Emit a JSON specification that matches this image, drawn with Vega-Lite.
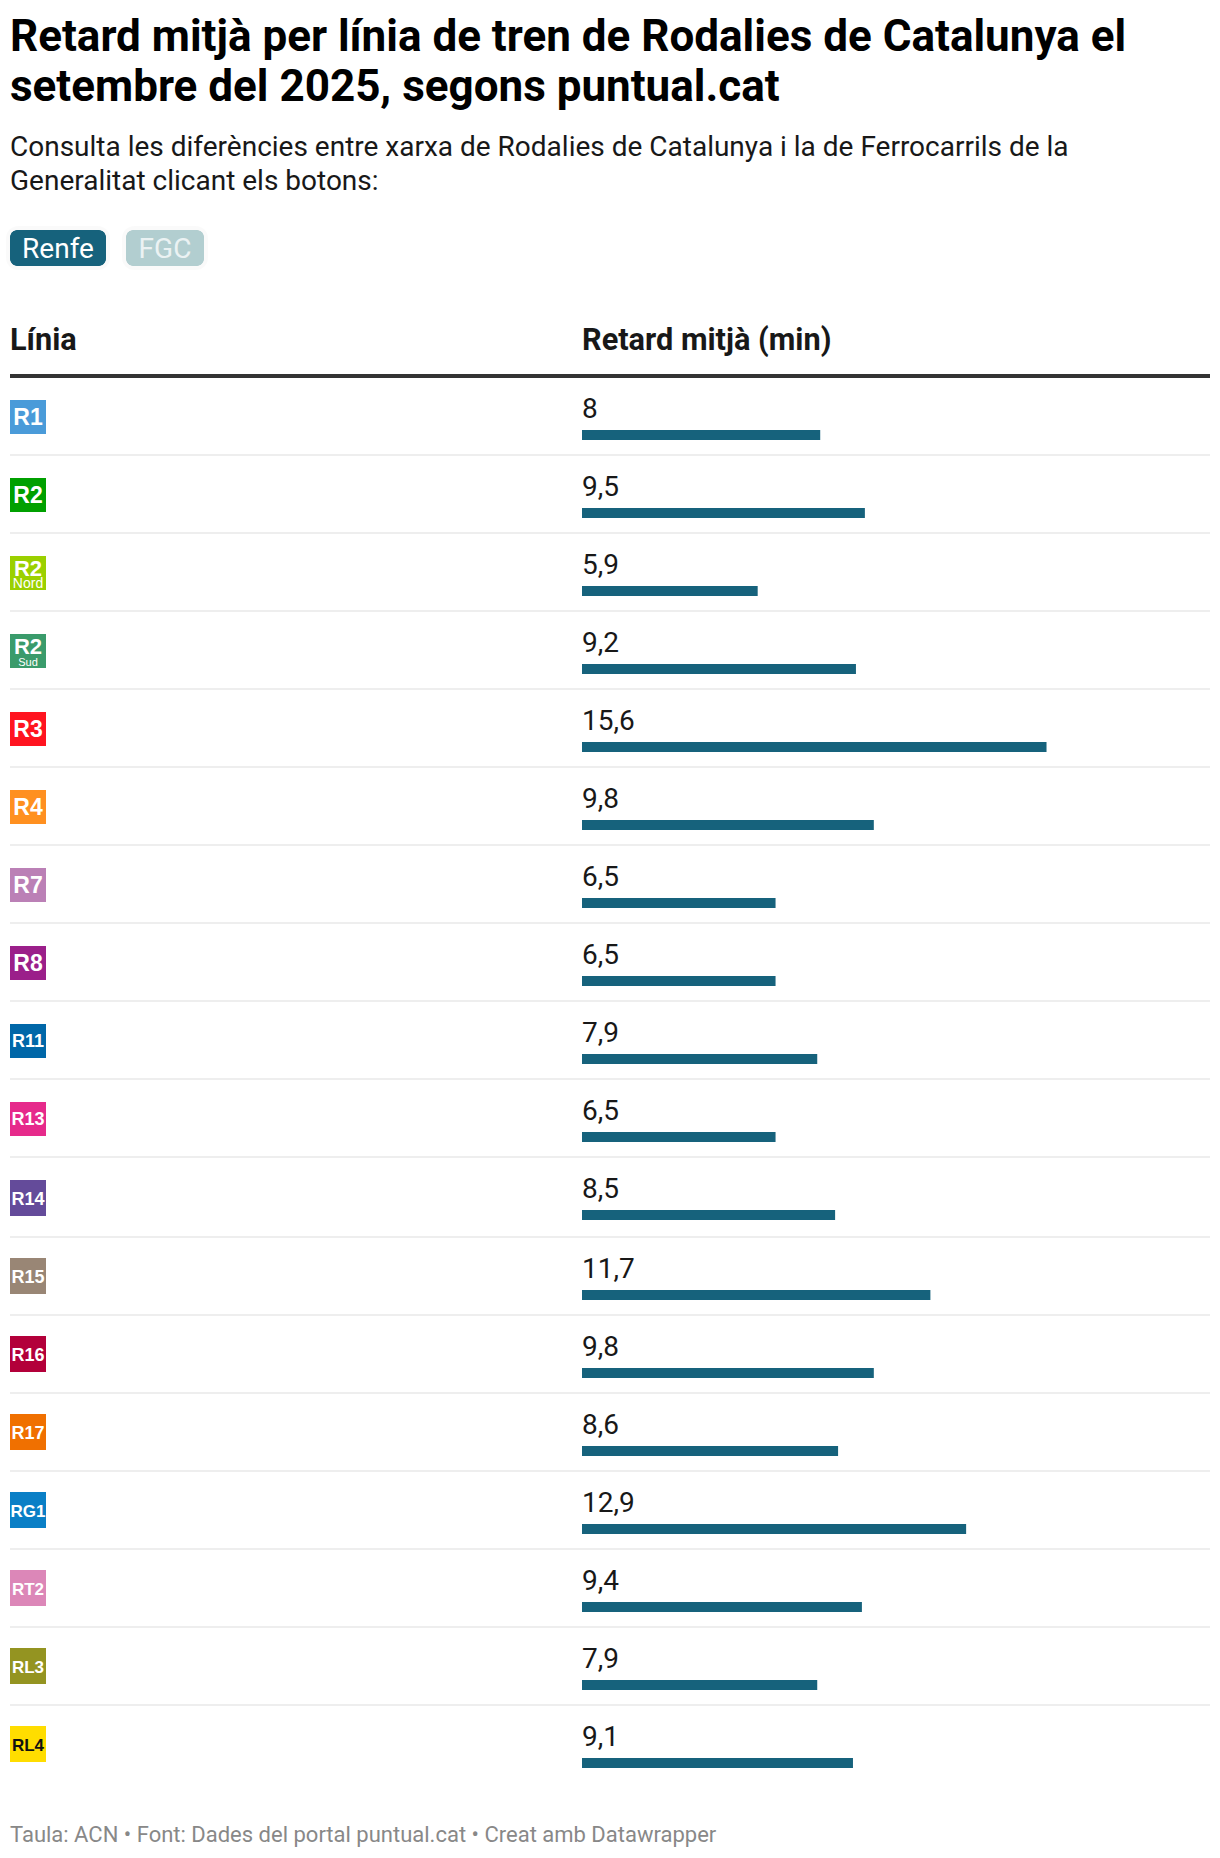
{"$schema":"https://vega.github.io/schema/vega-lite/v6.json","padding":{"left":6,"right":10,"top":16,"bottom":0},"background":"white","title":{"text":["Retard mitjà per línia de tren de Rodalies de Catalunya el","setembre del 2025, segons puntual.cat"],"subtitle":["Consulta les diferències entre xarxa de Rodalies de Catalunya i la de Ferrocarrils de la","Generalitat clicant els botons:"],"anchor":"start","frame":"group","font":"Roboto","fontSize":44,"fontWeight":"bold","color":"#000000","lineHeight":50,"subtitleFont":"Roboto","subtitleFontSize":28,"subtitleColor":"#181818","subtitleLineHeight":34,"subtitlePadding":24,"offset":30},"config":{"view":{"stroke":null},"axis":{"translate":0},"text":{"font":"Roboto"}},"datasets":{"linies":[{"linia":"R1","codi":"R1","sub":"","retard":8,"etiqueta":"8"},{"linia":"R2","codi":"R2","sub":"","retard":9.5,"etiqueta":"9,5"},{"linia":"R2 Nord","codi":"R2","sub":"Nord","retard":5.9,"etiqueta":"5,9"},{"linia":"R2 Sud","codi":"R2","sub":"Sud","retard":9.2,"etiqueta":"9,2"},{"linia":"R3","codi":"R3","sub":"","retard":15.6,"etiqueta":"15,6"},{"linia":"R4","codi":"R4","sub":"","retard":9.8,"etiqueta":"9,8"},{"linia":"R7","codi":"R7","sub":"","retard":6.5,"etiqueta":"6,5"},{"linia":"R8","codi":"R8","sub":"","retard":6.5,"etiqueta":"6,5"},{"linia":"R11","codi":"R11","sub":"","retard":7.9,"etiqueta":"7,9"},{"linia":"R13","codi":"R13","sub":"","retard":6.5,"etiqueta":"6,5"},{"linia":"R14","codi":"R14","sub":"","retard":8.5,"etiqueta":"8,5"},{"linia":"R15","codi":"R15","sub":"","retard":11.7,"etiqueta":"11,7"},{"linia":"R16","codi":"R16","sub":"","retard":9.8,"etiqueta":"9,8"},{"linia":"R17","codi":"R17","sub":"","retard":8.6,"etiqueta":"8,6"},{"linia":"RG1","codi":"RG1","sub":"","retard":12.9,"etiqueta":"12,9"},{"linia":"RT2","codi":"RT2","sub":"","retard":9.4,"etiqueta":"9,4"},{"linia":"RL3","codi":"RL3","sub":"","retard":7.9,"etiqueta":"7,9"},{"linia":"RL4","codi":"RL4","sub":"","retard":9.1,"etiqueta":"9,1"}],"botons":[{"boto":"Renfe"},{"boto":"FGC"}],"peu":[{"nota":"Taula: ACN • Font: Dades del portal puntual.cat • Creat amb Datawrapper"}]},"spacing":39,"vconcat":[{"spacing":55,"vconcat":[{"width":1200,"height":36,"data":{"name":"botons"},"encoding":{"x":{"field":"boto","type":"nominal","axis":null,"scale":{"type":"point","padding":0,"domain":["Renfe","FGC"],"range":[48,155]}}},"layer":[{"transform":[{"filter":"datum.boto=='Renfe'"}],"mark":{"type":"rect","width":96,"cornerRadius":8,"color":"#16627c","stroke":"#000000","strokeOpacity":0.02,"strokeWidth":8}},{"transform":[{"filter":"datum.boto=='FGC'"}],"mark":{"type":"rect","width":78,"cornerRadius":8,"color":"#b2ced0","stroke":"#000000","strokeOpacity":0.02,"strokeWidth":8}},{"transform":[{"filter":"datum.boto=='Renfe'"}],"mark":{"type":"rect","width":96,"cornerRadius":8,"color":"#16627c"}},{"transform":[{"filter":"datum.boto=='FGC'"}],"mark":{"type":"rect","width":78,"cornerRadius":8,"color":"#b2ced0"}},{"mark":{"type":"text","font":"Roboto","fontSize":28,"color":"#ffffff","baseline":"alphabetic","dy":10},"encoding":{"text":{"field":"boto"},"opacity":{"condition":{"test":"datum.boto=='FGC'","value":0.75},"value":1}}}]},{"spacing":2,"vconcat":[{"spacing":0,"hconcat":[{"width":572,"height":858,"data":{"name":"linies"},"transform":[{"filter":{"field":"linia","oneOf":["R1","R2","R2 Nord","R2 Sud","R3","R4","R7","R8","R11","R13","R14"]}},{"calculate":"'Renfe'","as":"xarxa"}],"encoding":{"x":{"field":"xarxa","type":"nominal","bandPosition":0.03147,"scale":{"type":"band","domain":["Renfe"],"paddingInner":0,"paddingOuter":0},"axis":{"orient":"top","title":"Línia","titleFont":"Roboto","titleFontSize":30.7,"titleFontWeight":"bold","titleColor":"#181818","titleAnchor":"start","titleAlign":"left","titleBaseline":"alphabetic","titlePadding":26,"labels":false,"ticks":false,"domain":true,"domainColor":"#333333","domainWidth":4,"grid":false,"offset":1}},"y":{"field":"linia","type":"nominal","sort":null,"scale":{"type":"band","paddingInner":0,"paddingOuter":0},"axis":{"orient":"left","title":null,"labels":false,"ticks":false,"domain":false,"grid":true,"gridColor":"#eeeeee","gridWidth":2,"bandPosition":1,"values":["R1","R2","R2 Nord","R2 Sud","R3","R4","R7","R8","R11","R13"]}},"color":{"field":"linia","type":"nominal","legend":null,"scale":{"domain":["R1","R2","R2 Nord","R2 Sud","R3","R4","R7","R8","R11","R13","R14","R15","R16","R17","RG1","RT2","RL3","RL4"],"range":["#4a9bd9","#00a000","#9bd000","#3a9b6b","#ff1420","#ff9020","#bb80b6","#9b1f8a","#0067a8","#e62a8b","#644b9a","#998675","#b3003a","#f07000","#0a7fc6","#dc87b8","#949421","#ffdd00"]}}},"layer":[{"transform":[{"filter":"datum.linia!='R14'"}],"mark":{"type":"rect","width":36,"height":34,"yOffset":1,"xOffset":-268}},{"transform":[{"filter":"datum.linia=='R14'"}],"mark":{"type":"rect","width":36,"height":36,"yOffset":2,"xOffset":-268}},{"transform":[{"filter":"length(datum.codi)==2 && datum.sub==''"}],"mark":{"type":"text","font":"Liberation Sans","fontWeight":"bold","fontSize":23,"baseline":"alphabetic","dy":9},"encoding":{"text":{"field":"codi"},"color":{"value":"#ffffff"}}},{"transform":[{"filter":"datum.sub!=''"}],"mark":{"type":"text","font":"Liberation Sans","fontWeight":"bold","fontSize":22,"baseline":"alphabetic","dy":4},"encoding":{"text":{"field":"codi"},"color":{"value":"#ffffff"}}},{"transform":[{"filter":"datum.sub!=''"}],"mark":{"type":"text","font":"Liberation Sans","baseline":"alphabetic","dy":16},"encoding":{"text":{"field":"sub"},"color":{"value":"#ffffff"},"size":{"condition":{"test":"datum.sub=='Nord'","value":14},"value":11}}},{"transform":[{"filter":"length(datum.codi)==3 && datum.linia!='R14'"}],"mark":{"type":"text","font":"Liberation Sans","fontWeight":"bold","fontSize":18,"baseline":"alphabetic","dy":7},"encoding":{"text":{"field":"codi"},"color":{"value":"#ffffff"}}},{"transform":[{"filter":"datum.linia=='R14'"}],"mark":{"type":"text","font":"Liberation Sans","fontWeight":"bold","fontSize":18,"baseline":"alphabetic","dy":9},"encoding":{"text":{"field":"codi"},"color":{"value":"#ffffff"}}}]},{"width":628,"height":858,"data":{"name":"linies"},"transform":[{"filter":{"field":"linia","oneOf":["R1","R2","R2 Nord","R2 Sud","R3","R4","R7","R8","R11","R13","R14"]}}],"encoding":{"y":{"field":"linia","type":"nominal","sort":null,"scale":{"type":"band","paddingInner":0,"paddingOuter":0},"axis":{"orient":"left","title":null,"labels":false,"ticks":false,"domain":false,"grid":true,"gridColor":"#eeeeee","gridWidth":2,"bandPosition":1,"values":["R1","R2","R2 Nord","R2 Sud","R3","R4","R7","R8","R11","R13"]}}},"layer":[{"mark":{"type":"bar","height":10,"yOffset":19,"color":"#16627c"},"encoding":{"x":{"field":"retard","type":"quantitative","scale":{"domain":[0,21.09],"nice":false,"zero":true},"axis":{"orient":"top","title":"Retard mitjà (min)","titleFont":"Roboto","titleFontSize":30.7,"titleFontWeight":"bold","titleColor":"#181818","titleAnchor":"start","titleAlign":"left","titleBaseline":"alphabetic","titlePadding":26,"labels":false,"ticks":false,"domain":true,"domainColor":"#333333","domainWidth":4,"grid":false,"offset":1}}}},{"mark":{"type":"text","font":"Roboto","fontSize":28,"color":"#181818","align":"left","baseline":"alphabetic","dy":2},"encoding":{"x":{"datum":0,"type":"quantitative"},"text":{"field":"etiqueta"}}}]}]},{"spacing":0,"hconcat":[{"width":572,"height":546,"data":{"name":"linies"},"transform":[{"filter":{"field":"linia","oneOf":["R15","R16","R17","RG1","RT2","RL3","RL4"]}},{"calculate":"'Renfe'","as":"xarxa"}],"encoding":{"x":{"field":"xarxa","type":"nominal","bandPosition":0.03147,"scale":{"type":"band","domain":["Renfe"],"paddingInner":0,"paddingOuter":0},"axis":{"orient":"top","title":null,"labels":false,"ticks":false,"domain":true,"domainColor":"#eeeeee","domainWidth":2,"grid":false}},"y":{"field":"linia","type":"nominal","sort":null,"scale":{"type":"band","paddingInner":0,"paddingOuter":0},"axis":{"orient":"left","title":null,"labels":false,"ticks":false,"domain":false,"grid":true,"gridColor":"#eeeeee","gridWidth":2,"bandPosition":1,"values":["R15","R16","R17","RG1","RT2","RL3"]}},"color":{"field":"linia","type":"nominal","legend":null,"scale":{"domain":["R1","R2","R2 Nord","R2 Sud","R3","R4","R7","R8","R11","R13","R14","R15","R16","R17","RG1","RT2","RL3","RL4"],"range":["#4a9bd9","#00a000","#9bd000","#3a9b6b","#ff1420","#ff9020","#bb80b6","#9b1f8a","#0067a8","#e62a8b","#644b9a","#998675","#b3003a","#f07000","#0a7fc6","#dc87b8","#949421","#ffdd00"]}}},"layer":[{"mark":{"type":"rect","width":36,"height":36,"xOffset":-268}},{"mark":{"type":"text","font":"Liberation Sans","fontWeight":"bold","baseline":"alphabetic","dy":7},"encoding":{"text":{"field":"codi"},"size":{"condition":{"test":"test(/^R[0-9]/,datum.codi)","value":18},"value":17},"color":{"condition":{"test":"datum.linia=='RL4'","value":"#111111"},"value":"#ffffff"}}}]},{"width":628,"height":546,"data":{"name":"linies"},"transform":[{"filter":{"field":"linia","oneOf":["R15","R16","R17","RG1","RT2","RL3","RL4"]}}],"encoding":{"y":{"field":"linia","type":"nominal","sort":null,"scale":{"type":"band","paddingInner":0,"paddingOuter":0},"axis":{"orient":"left","title":null,"labels":false,"ticks":false,"domain":false,"grid":true,"gridColor":"#eeeeee","gridWidth":2,"bandPosition":1,"values":["R15","R16","R17","RG1","RT2","RL3"]}}},"layer":[{"mark":{"type":"bar","height":10,"yOffset":19,"color":"#16627c"},"encoding":{"x":{"field":"retard","type":"quantitative","scale":{"domain":[0,21.09],"nice":false,"zero":true},"axis":{"orient":"top","title":null,"labels":false,"ticks":false,"domain":true,"domainColor":"#eeeeee","domainWidth":2,"grid":false}}}},{"mark":{"type":"text","font":"Roboto","fontSize":28,"color":"#181818","align":"left","baseline":"alphabetic","dy":2},"encoding":{"x":{"datum":0,"type":"quantitative"},"text":{"field":"etiqueta"}}}]}]}]}]},{"width":1200,"height":40,"data":{"name":"peu"},"mark":{"type":"text","font":"Roboto","fontSize":22,"color":"#888888","align":"left","baseline":"alphabetic"},"encoding":{"x":{"field":"nota","type":"nominal","axis":null,"scale":{"type":"point","padding":0,"range":[0,0]}},"text":{"field":"nota"}}}]}
